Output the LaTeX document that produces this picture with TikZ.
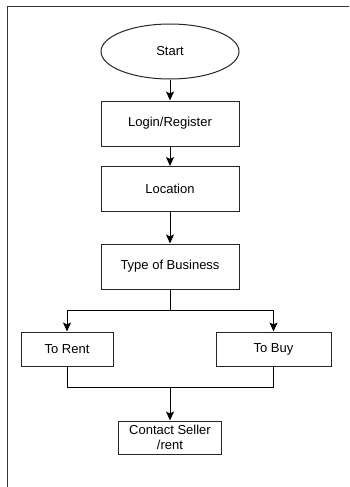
\documentclass[tikz,border=0pt]{standalone}
\usepackage{fontspec}
\setmainfont{Liberation Sans}
\usetikzlibrary{positioning,shapes.geometric,arrows.meta}
\begin{document}
\begin{tikzpicture}[x=1pt,y=1pt,
block1/.style={rectangle, draw=black!85, line width=1pt, minimum width=138pt, minimum height=45pt, inner sep=0pt},
block2/.style={rectangle, draw=black!85, line width=1pt, minimum height=34pt, inner sep=0pt},
debut/.style={ellipse, draw=black!85, line width=1pt, minimum width=138pt, minimum height=55pt, inner sep=0pt},
fleche/.style={line width=1pt, -{Stealth[length=9pt,width=8pt,inset=2pt]}},
ligne/.style={line width=1pt},
font=\fontsize{13}{15}\selectfont
]
    % Cadre
    \useasboundingbox (0,0) rectangle (349,-487);
    \coordinate (cadreA) at (7.5,-487);
    \coordinate (cadreB) at (7.5,-6.5);
    \coordinate (cadreC) at (349,-6.5);
    \draw [line width=1.6pt, black!80] (cadreA) -- (cadreB) -- (cadreC);

    % Définition des blocs
    \node [debut] (start) at (170,-51.5) {Start};
    \node [block1, below of=start, node distance=72pt] (login) {Login/Register};
    \node [block1, below of=login, node distance=65.5pt] (location) {Location};
    \node [block1, below of=location, node distance=77.5pt] (business) {Type of Business};
    \node [block2, minimum width=92pt] (rent) at (67,-349) {To Rent};
    \node [block2, minimum width=115pt] (buy) at (273.5,-349) {To Buy};
    \node [block2, minimum width=103pt, minimum height=33pt, align=center] (contact) at (170,-437.5) {Contact Seller\\/rent};

    % Définition des liens
    \draw [fleche] (start) -- (login);
    \draw [fleche] (login) -- (location);
    \draw [fleche] (location) -- (business);
    \coordinate (split) at (170,-310.7);
    \coordinate (merge) at (170,-387.3);
    \draw [ligne] (business) -- (split);
    \draw [fleche] (split) -| (rent);
    \draw [fleche] (split) -| (buy);
    \draw [ligne] (rent) |- (merge);
    \draw [ligne] (buy) |- (merge);
    \draw [fleche] (merge) -- (contact);
\end{tikzpicture}
\end{document}
